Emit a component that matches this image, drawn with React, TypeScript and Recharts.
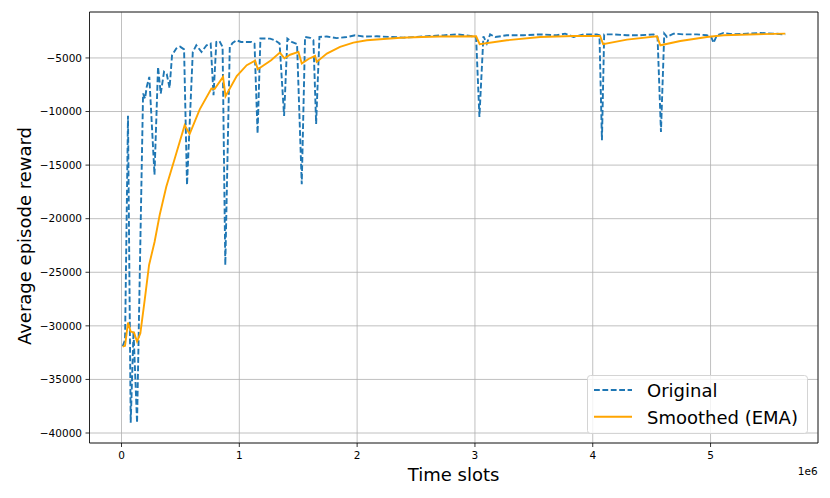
import React from 'react';
import { LineChart, Line, XAxis, YAxis, CartesianGrid, ReferenceArea } from 'recharts';

// time steps and rewards
const origSteps = [
  10000, 30000, 55000, 78000, 102000, 132000, 183000, 200000, 214000, 236000,
  280000, 310000, 333000, 361000, 384000, 408000, 429000, 465000, 497000, 531000,
  556000, 605000, 635000, 679000, 722000, 757000, 781000, 805000, 831000, 858000,
  881000, 919000, 943000, 975000, 1015000, 1061000, 1104000, 1129000, 1155000, 1179000,
  1219000, 1261000, 1304000, 1342000, 1380000, 1408000, 1445000, 1490000, 1530000, 1558000,
  1601000, 1629000, 1652000, 1680000, 1743000, 1827000, 1912000, 1983000, 2053000, 2167000,
  2280000, 2393000, 2507000, 2620000, 2733000, 2846000, 2987000, 3010000, 3038000, 3072000,
  3101000, 3129000, 3172000, 3271000, 3412000, 3554000, 3696000, 3766000, 3837000, 3922000,
  4035000, 4057000, 4078000, 4097000, 4176000, 4290000, 4403000, 4516000, 4550000, 4579000,
  4607000, 4630000, 4686000, 4771000, 4884000, 4969000, 5006000, 5025000, 5054000, 5110000,
  5195000, 5309000, 5422000, 5535000, 5634000,
];
const origReward = [
  -31900, -31300, -10400, -39050, -30500, -39050, -8320, -8780, -7700, -6770,
  -15900, -5840, -8320, -6300, -6500, -7800, -4750, -4120, -3950, -4200,
  -16860, -4450, -3820, -4440, -3820, -3660, -8480, -3510, -3420, -3975,
  -24320, -3975, -3600, -3350, -3510, -3510, -3510, -3660, -12050, -3190,
  -3190, -3200, -3350, -3660, -10420, -3190, -3510, -3700, -16780, -3040,
  -3120, -3350, -11150, -3040, -3000, -3150, -3050, -2885, -3000, -2980,
  -3040, -3100, -3040, -2950, -2890, -2800, -2980, -3100, -10500, -2980,
  -3660, -2800, -3050, -2885, -2885, -2800, -2885, -2730, -3040, -2800,
  -2800, -2885, -12670, -2800, -2800, -2885, -2885, -2800, -3040, -11900,
  -2730, -3040, -2730, -2800, -2800, -2885, -3040, -3600, -2885, -2670,
  -2800, -2730, -2670, -2730, -2800,
];

const emaSteps = [
  10000, 30000, 55000, 78000, 106000, 132000, 160000, 197000, 234000, 281000,
  324000, 380000, 452000, 536000, 578000, 664000, 763000, 790000, 862000, 883000,
  978000, 1063000, 1134000, 1157000, 1270000, 1344000, 1383000, 1431000, 1502000, 1530000,
  1587000, 1643000, 1657000, 1743000, 1855000, 1968000, 2082000, 2195000, 2370000, 2550000,
  2700000, 3010000, 3040000, 3271000, 3554000, 3837000, 4063000, 4088000, 4290000, 4545000,
  4574000, 4743000, 4969000, 5110000, 5394000, 5634000,
];
const emaReward = [
  -31930, -31860, -29700, -30530, -30630, -31470, -30690, -27580, -24320, -22150,
  -19660, -17020, -14380, -11270, -12100, -9800, -7850, -7900, -6770, -8570,
  -6700, -5680, -5250, -6050, -5210, -4500, -5030, -4700, -4440, -5520,
  -5100, -4810, -5370, -4590, -3975, -3570, -3350, -3260, -3120, -3050,
  -3000, -2980, -3720, -3350, -3040, -2950, -2950, -3720, -3290, -2980,
  -3820, -3420, -3040, -2885, -2790, -2730,
];

const xTicks = [0, 1000000, 2000000, 3000000, 4000000, 5000000];
const yTicks = [-40000, -35000, -30000, -25000, -20000, -15000, -10000, -5000];

const FONT = '"DejaVu Sans", sans-serif';
const BLUE = '#1f77b4';
const ORANGE = '#ffa500';
const X_DOMAIN = [-271700, 5912000];
const Y_DOMAIN = [-40932, -713];

const origData = origSteps.map((x, i) => ({ x, y: origReward[i] }));
const emaData = emaSteps.map((x, i) => ({ x, y: emaReward[i] }));

const fmtY = (v: number) => (v < 0 ? '\u2212' + Math.abs(v) : String(v));
const fmtX = (v: number) => String(v / 1e6);

const tickStyle = { fill: '#000', fontSize: 10.5, fontFamily: FONT };

const XLabel = () => (
  <g>
    <text x={453.6} y={481} textAnchor="middle" fontSize={18} fontFamily={FONT} fill="#000">
      Time slots
    </text>
    <text x={817.7} y={475} textAnchor="end" fontSize={10.5} fontFamily={FONT} fill="#000">
      1e6
    </text>
  </g>
);

const YLabel = () => (
  <text
    x={24}
    y={236}
    transform="rotate(-90 24 236)"
    textAnchor="middle"
    dominantBaseline="central"
    fontSize={18}
    fontFamily={FONT}
    fill="#000"
  >
    Average episode reward
  </text>
);

const LegendBox = () => (
  <svg width={830} height={498} style={{ position: 'absolute', left: 0, top: 0, pointerEvents: 'none' }}>
    <rect x={587.5} y={375.5} width={220} height={58} rx={3} fill="#fff" fillOpacity={0.8} stroke="#d4d4d4" strokeWidth={1} />
    <line x1={594} y1={390} x2={632} y2={390} stroke={BLUE} strokeWidth={1.9} strokeDasharray="5.8 2.6" />
    <text x={647} y={396.7} fontSize={18} fontFamily={FONT} fill="#000">Original</text>
    <line x1={594} y1={416.7} x2={632} y2={416.7} stroke={ORANGE} strokeWidth={1.9} />
    <text x={647} y={424} fontSize={18} fontFamily={FONT} fill="#000">Smoothed (EMA)</text>
  </svg>
);

const App = () => (
  <div style={{ position: 'absolute', left: 0, top: 0, width: 830, height: 498, background: '#fff' }}>
    <LineChart width={830} height={498} margin={{ top: 12, right: 12, bottom: 0, left: 0 }}>
      <CartesianGrid stroke="#b0b0b0" strokeWidth={0.8} />
      <XAxis
        dataKey="x"
        type="number"
        domain={X_DOMAIN}
        ticks={xTicks}
        allowDataOverflow
        tickFormatter={fmtX}
        axisLine={false}
        tickLine={{ stroke: '#000', strokeWidth: 0.8 }}
        tickSize={4}
        tickMargin={5}
        height={55}
        tick={tickStyle}
        label={XLabel}
      />
      <YAxis
        type="number"
        domain={Y_DOMAIN}
        ticks={yTicks}
        allowDataOverflow
        tickFormatter={fmtY}
        axisLine={false}
        tickLine={{ stroke: '#000', strokeWidth: 0.8 }}
        tickSize={4}
        tickMargin={3.5}
        width={89.5}
        tick={tickStyle}
        label={YLabel}
      />
      <Line
        data={origData}
        dataKey="y"
        type="linear"
        stroke={BLUE}
        strokeWidth={1.9}
        strokeDasharray="5.8 2.6"
        dot={false}
        activeDot={false}
        isAnimationActive={false}
      />
      <Line
        data={emaData}
        dataKey="y"
        type="linear"
        stroke={ORANGE}
        strokeWidth={1.9}
        dot={false}
        activeDot={false}
        isAnimationActive={false}
      />
      <ReferenceArea
        x1={X_DOMAIN[0]}
        x2={X_DOMAIN[1]}
        y1={Y_DOMAIN[0]}
        y2={Y_DOMAIN[1]}
        fill="none"
        stroke="#000"
        strokeWidth={0.8}
        ifOverflow="visible"
      />
    </LineChart>
    <LegendBox />
  </div>
);

export default App;
